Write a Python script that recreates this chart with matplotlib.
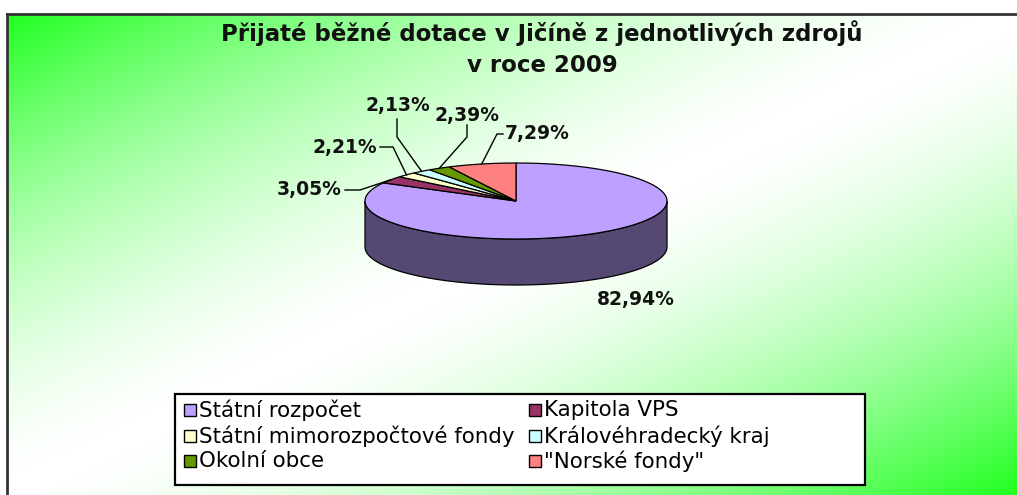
import numpy as np
import matplotlib.pyplot as plt
from matplotlib.patches import Polygon, Rectangle
from matplotlib.colors import to_rgb

# data
labels = ['Státní rozpočet', 'Kapitola VPS', 'Státní mimorozpočtové fondy',
          'Královéhradecký kraj', 'Okolní obce', '"Norské fondy"']
shares = [82.94, 3.05, 2.21, 2.13, 2.39, 7.29]
colors = ['#BDA0FF', '#993366', '#FFFFCC', '#CCFFFF', '#669900', '#FF8080']
title = 'Přijaté běžné dotace v Jičíně z jednotlivých zdrojů'
subtitle = 'v roce 2009'

W, H = 1017, 495
fig = plt.figure(figsize=(W / 100, H / 100), dpi=100, facecolor='white')
ax = fig.add_axes([0, 0, 1, 1])
ax.set_xlim(0, W)
ax.set_ylim(H, 0)
renderer = fig.canvas.get_renderer()


def fit_size(s, target_w, weight='normal', base=12):
    # font size that makes the string about target_w pixels wide
    t = ax.text(0, 0, s, fontsize=base, fontweight=weight)
    w = t.get_window_extent(renderer=renderer).width
    t.remove()
    return base * target_w / w


# green -> white -> green diagonal background inside the frame
fx0, fy0 = 7, 14
U, V = np.meshgrid(np.linspace(0, 1, 400), np.linspace(0, 1, 200))
t = np.abs(U + V - 1) ** 1.6
green = np.array([0.13, 1.0, 0.13])
bg = 1 - t[..., None] * (1 - green)
ax.imshow(bg, extent=(fx0, W, H, fy0), origin='upper', aspect='auto',
          interpolation='bilinear', zorder=0)
ax.plot([fx0, fx0], [H, fy0], color='#333333', lw=2, zorder=1)
ax.plot([fx0, W], [fy0, fy0], color='#333333', lw=2, zorder=1)

# 3d pie, drawn in pixel coordinates
cx, cy, rx, ry, depth = 516, 201, 151, 38, 46


def ell(a_deg, dy=0.0):
    a = np.radians(a_deg)
    return cx + rx * np.cos(a), cy - ry * np.sin(a) + dy


fr = np.array(shares) / sum(shares)
bounds = 90 - 360 * np.concatenate([[0], np.cumsum(fr)])

# front walls
for i in range(len(shares)):
    s, e = bounds[i], bounds[i + 1]
    for k in (0, -360):
        lo, hi = max(e, -180 + k), min(s, k)
        if hi <= lo:
            continue
        a = np.linspace(hi, lo, 80)
        tx, ty = ell(a)
        bx, by = ell(a[::-1], depth)
        side = np.array(to_rgb(colors[i])) * 0.45
        ax.add_patch(Polygon(np.column_stack([np.r_[tx, bx], np.r_[ty, by]]),
                             fc=side, ec='black', lw=0.9, zorder=2))

# top faces
for i in range(len(shares)):
    a = np.linspace(bounds[i], bounds[i + 1], max(4, int(fr[i] * 300)))
    tx, ty = ell(a)
    ax.add_patch(Polygon(np.column_stack([np.r_[cx, tx], np.r_[cy, ty]]),
                         fc=colors[i], ec='black', lw=0.9, zorder=3))

# percentage labels with leader lines
mid = (bounds[:-1] + bounds[1:]) / 2
anchors = np.column_stack(ell(mid))
lab_pos = [(636, 300), (342, 190), (377, 147), (398, 106), (467, 116), (505, 134)]
lab_ha = ['center', 'right', 'right', 'center', 'center', 'left']
leaders = [None,
           [(345, 190), (360, 190)],
           [(380, 147), (393, 147)],
           [(397, 119), (397, 137)],
           [(467, 125), (467, 137)],
           [(503, 134), (497, 134)]]
for i, v in enumerate(shares):
    txt = f'{v:.2f}'.replace('.', ',') + '%'
    ax.text(lab_pos[i][0], lab_pos[i][1], txt, ha=lab_ha[i], va='center',
            fontsize=13.5, fontweight='bold', color='#111111', zorder=6)
    if leaders[i] is not None:
        pts = np.array(leaders[i] + [tuple(anchors[i])])
        ax.plot(pts[:, 0], pts[:, 1], color='black', lw=1, zorder=5)

# title, stretched to the width it has in the original
tsize = fit_size(title, 641, 'bold')
ax.text(542, 33, title, ha='center', va='center', fontsize=tsize,
        fontweight='bold', color='#111111', zorder=6)
ax.text(542, 66, subtitle, ha='center', va='center', fontsize=tsize,
        fontweight='bold', color='#111111', zorder=6)

# legend (Excel style box, two columns, row-major order)
ax.add_patch(Rectangle((175, 394), 690, 91, fc='white', ec='black', lw=1.6, zorder=4))
lsize = fit_size(labels[3], 225)
col_x = [184, 529]
row_y = [410, 436, 461]
for i, lab in enumerate(labels):
    x, y = col_x[i % 2], row_y[i // 2]
    ax.add_patch(Rectangle((x, y - 6), 12, 12, fc=colors[i], ec='black',
                           lw=1, zorder=5))
    ax.text(x + 15, y, lab, ha='left', va='center', fontsize=lsize,
            color='black', zorder=6)

ax.axis('off')
fig.savefig('out.png', dpi=100)
